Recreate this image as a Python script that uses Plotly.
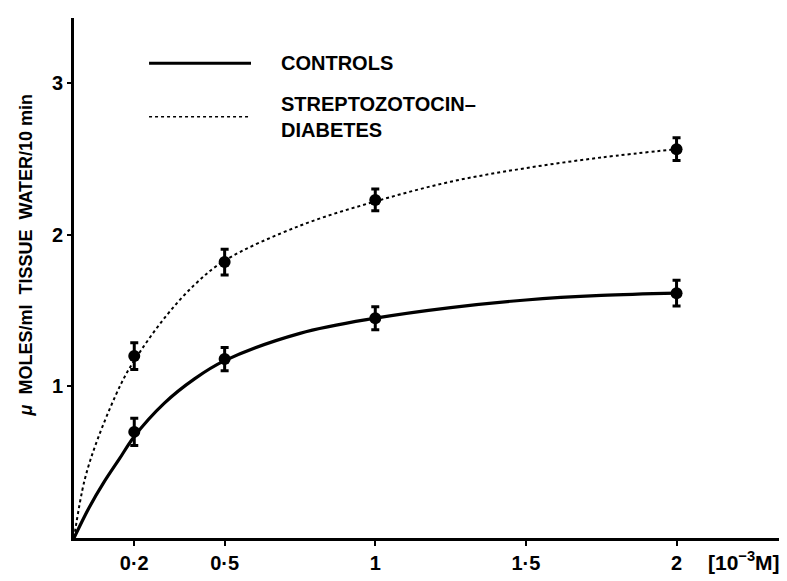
import plotly.graph_objects as go

# Measured data points (concentration in 10^-3 M)
conc = [0.2, 0.5, 1.0, 2.0]
controls_mean = [0.70, 1.18, 1.45, 1.615]
controls_err = [0.09, 0.076, 0.076, 0.085]
diabetes_mean = [1.20, 1.82, 2.23, 2.565]
diabetes_err = [0.088, 0.085, 0.072, 0.075]

# Fitted curves
curve_x_controls = [0, 0.05, 0.1, 0.15, 0.2, 0.3, 0.4, 0.5, 0.75, 1.0, 1.25, 1.5, 1.75, 2.0]
curve_y_controls = [0, 0.20, 0.37, 0.52, 0.67, 0.89, 1.05, 1.17, 1.35, 1.45, 1.52, 1.57, 1.60, 1.615]
curve_x_diabetes = [0, 0.035, 0.08, 0.157, 0.2, 0.3, 0.4, 0.5, 0.75, 1.0, 1.25, 1.5, 1.75, 2.0]
curve_y_diabetes = [0, 0.38, 0.66, 1.02, 1.17, 1.45, 1.67, 1.83, 2.06, 2.22, 2.35, 2.44, 2.51, 2.565]

x_tickvals = [0.2, 0.5, 1, 1.5, 2]
x_ticktext = ["0·2", "0·5", "1", "1·5", "2"]
y_tickvals = [1, 2, 3]
y_ticktext = ["1", "2", "3"]

FONT = "Liberation Sans, Arial, sans-serif"

fig = go.Figure()

fig.add_trace(go.Scatter(x=curve_x_diabetes, y=curve_y_diabetes, mode="lines",
                         line=dict(color="black", width=2, dash="dot", shape="spline"),
                         showlegend=False, hoverinfo="skip"))
fig.add_trace(go.Scatter(x=curve_x_controls, y=curve_y_controls, mode="lines",
                         line=dict(color="black", width=3.2, shape="spline"),
                         showlegend=False, hoverinfo="skip"))

fig.add_trace(go.Scatter(x=conc, y=diabetes_mean, mode="markers",
                         marker=dict(color="black", size=12),
                         error_y=dict(type="data", array=diabetes_err, color="black",
                                      thickness=3, width=4),
                         showlegend=False))
fig.add_trace(go.Scatter(x=conc, y=controls_mean, mode="markers",
                         marker=dict(color="black", size=12),
                         error_y=dict(type="data", array=controls_err, color="black",
                                      thickness=3, width=4),
                         showlegend=False))

fig.update_layout(
    width=787, height=581,
    margin=dict(l=66, r=13, t=10, b=51, autoexpand=False),
    paper_bgcolor="white", plot_bgcolor="white",
    font=dict(family=FONT, color="black", size=18),
    xaxis=dict(range=[0, 2.35], showgrid=False, zeroline=False,
               showline=True, linecolor="black", linewidth=3,
               ticks="outside", ticklen=5, tickwidth=2, tickcolor="black",
               tickvals=x_tickvals, ticktext=x_ticktext,
               tickfont=dict(family=FONT, size=20, weight="bold")),
    yaxis=dict(range=[0, 3.43], showgrid=False, zeroline=False,
               showline=True, linecolor="black", linewidth=3,
               ticks="outside", ticklen=4, tickwidth=2, tickcolor="black",
               tickvals=y_tickvals, ticktext=y_ticktext,
               tickfont=dict(family=FONT, size=20, weight="bold")),
    showlegend=False,
)

# Legend drawn manually
fig.add_shape(type="line", xref="paper", yref="paper", x0=0.106, x1=0.25, y0=0.913, y1=0.913,
              line=dict(color="black", width=3))
fig.add_shape(type="line", xref="paper", yref="paper", x0=0.106, x1=0.25, y0=0.81, y1=0.81,
              line=dict(color="black", width=1.5, dash="dot"))
fig.add_annotation(xref="paper", yref="paper", x=0.29, y=0.913, xanchor="left", yanchor="middle",
                   text="CONTROLS", showarrow=False,
                   font=dict(family=FONT, size=20, weight="bold"))
fig.add_annotation(xref="paper", yref="paper", x=0.29, y=0.81, xanchor="left", yanchor="middle",
                   text="STREPTOZOTOCIN–<br>DIABETES", showarrow=False, align="left",
                   font=dict(family=FONT, size=20, weight="bold"))

# Y axis title
fig.add_annotation(xref="paper", yref="paper", x=-0.068, y=0.545, xanchor="center", yanchor="middle",
                   text="<i>μ</i>  MOLES/ml  TISSUE  WATER/10 min", textangle=-90, showarrow=False,
                   font=dict(family=FONT, size=18, weight="bold"))
# X unit label
fig.add_annotation(xref="paper", yref="paper", x=0.946, y=-0.045, xanchor="center", yanchor="middle",
                   text="[10<sup>−3</sup>M]", showarrow=False,
                   font=dict(family=FONT, size=21, weight="bold"))

fig.write_html("out.html")
